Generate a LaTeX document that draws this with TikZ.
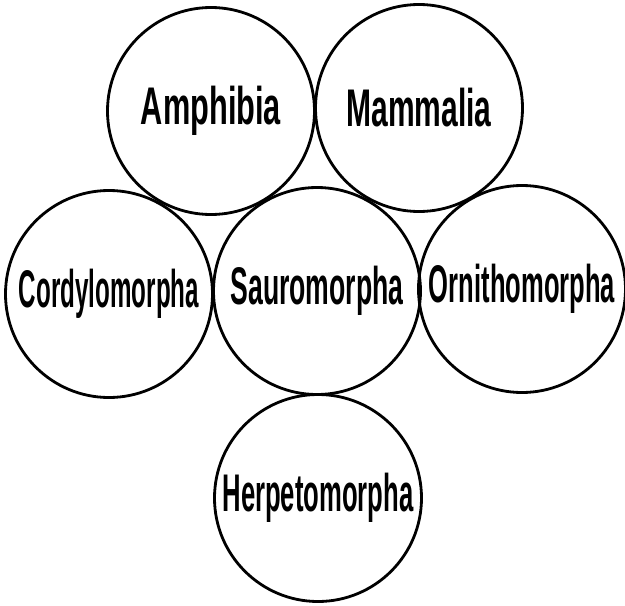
\documentclass[tikz,border=0pt]{standalone}
\usepackage{fontspec}
\setmainfont{Liberation Sans}
\usepackage{graphicx}
\newcommand{\taxlbl}[2]{\resizebox{#1pt}{\height}{\bfseries #2}}
\begin{document}
\begin{tikzpicture}[x=1pt,y=-1pt,
  taxon/.style={circle,draw=black,line width=2.8pt,minimum size=207pt,inner sep=0pt,
    font=\fontsize{53}{53}\selectfont}]
\useasboundingbox (0,0) rectangle (625,606);
\node[taxon] (amph) at (211,111) {\taxlbl{140}{Amphibia}};
\node[taxon] (mamm) at (419,108) {\taxlbl{145}{Mammalia}};
\node[taxon] (cord) at (109,294) {\taxlbl{180}{Cordylomorpha}};
\node[taxon] (saur) at (317,291) {\taxlbl{173}{Sauromorpha}};
\node[taxon] (orni) at (522,289) {\taxlbl{186}{Ornithomorpha}};
\node[taxon] (herp) at (318,498) {\taxlbl{191}{Herpetomorpha}};
\end{tikzpicture}
\end{document}
